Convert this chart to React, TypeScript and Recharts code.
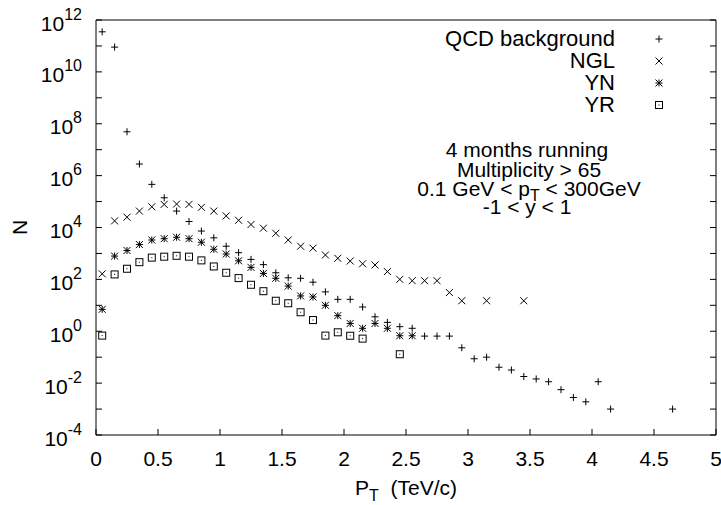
import { ScatterChart, Scatter, XAxis, YAxis, Legend } from "recharts";

// pT bins (TeV/c) and counts
const qcdPt = [
  0.05, 0.15, 0.25, 0.35, 0.45, 0.55, 0.65, 0.75, 0.85, 0.95, 1.05, 1.15, 1.25,
  1.35, 1.45, 1.55, 1.65, 1.75, 1.85, 1.95, 2.05, 2.15, 2.25, 2.35, 2.45, 2.55,
  2.65, 2.75, 2.85, 2.95, 3.05, 3.15, 3.25, 3.35, 3.45, 3.55, 3.65, 3.75, 3.85,
  3.95, 4.05, 4.15, 4.65,
];
const qcdN = [
  3.5e11, 9e10, 4.9e7, 2.8e6, 4.6e5, 1.4e5, 4.3e4, 1.7e4, 7.3e3, 4e3, 1.9e3,
  1.07e3, 590, 370, 180, 115, 110, 78, 33, 17, 17, 8.6, 3.6, 2.2, 1.5, 1.3,
  0.65, 0.65, 0.65, 0.23, 0.087, 0.1, 0.041, 0.032, 0.018, 0.0145, 0.0113,
  0.0056, 0.0028, 0.0019, 0.0113, 0.001, 0.001,
];

const nglPt = [
  0.05, 0.15, 0.25, 0.35, 0.45, 0.55, 0.65, 0.75, 0.85, 0.95, 1.05, 1.15, 1.25,
  1.35, 1.45, 1.55, 1.65, 1.75, 1.85, 1.95, 2.05, 2.15, 2.25, 2.35, 2.45, 2.55,
  2.65, 2.75, 2.85, 2.95, 3.15, 3.45,
];
const nglN = [
  163, 1.8e4, 2.5e4, 4.3e4, 6.3e4, 7.8e4, 8e4, 7.8e4, 6e4, 4.3e4, 2.8e4, 1.9e4,
  1.3e4, 9.4e3, 6e3, 3.3e3, 1.9e3, 1.6e3, 870, 650, 510, 400, 360, 200, 100, 89,
  89, 89, 31, 15, 15, 15,
];

const ynPt = [
  0.05, 0.15, 0.25, 0.35, 0.45, 0.55, 0.65, 0.75, 0.85, 0.95, 1.05, 1.15, 1.25,
  1.35, 1.45, 1.55, 1.65, 1.75, 1.85, 1.95, 2.05, 2.15, 2.25, 2.35, 2.45, 2.55,
];
const ynN = [
  7, 790, 1.3e3, 2.2e3, 3.3e3, 3.7e3, 4.2e3, 3.7e3, 2.7e3, 1.45e3, 950, 520, 290,
  170, 110, 55, 23, 21, 10, 4, 2.0, 1.3, 2.0, 1.3, 0.67, 0.67,
];

const yrPt = [
  0.05, 0.15, 0.25, 0.35, 0.45, 0.55, 0.65, 0.75, 0.85, 0.95, 1.05, 1.15, 1.25,
  1.35, 1.45, 1.55, 1.65, 1.75, 1.85, 1.95, 2.05, 2.15, 2.45,
];
const yrN = [
  0.68, 155, 257, 460, 690, 750, 810, 750, 540, 315, 180, 112, 62, 35, 15, 12,
  5.4, 2.7, 0.68, 0.91, 0.67, 0.52, 0.13,
];

const xTicks = [0, 0.5, 1, 1.5, 2, 2.5, 3, 3.5, 4, 4.5, 5];
const yTicks = [
  1e-4, 1e-3, 1e-2, 1e-1, 1, 1e1, 1e2, 1e3, 1e4, 1e5, 1e6, 1e7, 1e8, 1e9, 1e10,
  1e11, 1e12,
];

const FONT = "'Liberation Sans', Arial, Helvetica, sans-serif";
const FS = 21;
const FS_KEY = 22;
const TICK = 6;
const H = 3.5;

const toPoints = (pt: number[], n: number[]) =>
  pt.map((p, i) => ({ pt: p, n: n[i] }));

const PlusMark = ({ cx, cy }: any) => (
  <path
    d={`M${cx - H},${cy}h${2 * H}M${cx},${cy - H}v${2 * H}`}
    stroke="#000"
    strokeWidth={1}
    fill="none"
  />
);
const CrossMark = ({ cx, cy }: any) => (
  <path
    d={`M${cx - H},${cy - H}l${2 * H},${2 * H}M${cx - H},${cy + H}l${2 * H},${-2 * H}`}
    stroke="#000"
    strokeWidth={1}
    fill="none"
  />
);
const StarMark = ({ cx, cy }: any) => (
  <g>
    <PlusMark cx={cx} cy={cy} />
    <CrossMark cx={cx} cy={cy} />
  </g>
);
const BoxMark = ({ cx, cy }: any) => (
  <g>
    <rect x={cx - H} y={cy - H} width={2 * H} height={2 * H} stroke="#000" strokeWidth={1} fill="none" />
    <rect x={cx - 0.5} y={cy - 0.5} width={1} height={1} fill="#000" />
  </g>
);

const series = [
  { name: "QCD background", data: toPoints(qcdPt, qcdN), Shape: PlusMark },
  { name: "NGL", data: toPoints(nglPt, nglN), Shape: CrossMark },
  { name: "YN", data: toPoints(ynPt, ynN), Shape: StarMark },
  { name: "YR", data: toPoints(yrPt, yrN), Shape: BoxMark },
];

const BottomTick = ({ x, y, payload }: any) => (
  <g>
    <line x1={x} y1={y} x2={x} y2={y - TICK} stroke="#000" />
    <text x={x} y={y + 31} textAnchor="middle" fontFamily={FONT} fontSize={FS} fill="#000">
      {payload.value}
    </text>
  </g>
);
const TopTick = ({ x, y }: any) => (
  <line x1={x} y1={y} x2={x} y2={y + TICK} stroke="#000" />
);
const LeftTick = ({ x, y, payload }: any) => {
  const exp = Math.round(Math.log10(payload.value));
  return (
    <g>
      <line x1={x} y1={y} x2={x + TICK} y2={y} stroke="#000" />
      {exp % 2 === 0 && (
        <text x={x - 14} y={y + 10.5} textAnchor="end" fontFamily={FONT} fontSize={FS} fill="#000">
          <tspan>10</tspan>
          <tspan dy={-11} fontSize={16}>
            {exp}
          </tspan>
        </text>
      )}
    </g>
  );
};
const RightTick = ({ x, y }: any) => (
  <line x1={x} y1={y} x2={x - TICK} y2={y} stroke="#000" />
);

// legend + run conditions, drawn in a box whose origin is at (400, 0)
const LegendBox = () => (
  <svg width={320} height={230} style={{ display: "block", overflow: "visible" }}>
    {series.map((s, i) => (
      <g key={s.name}>
        <text x={215} y={46 + i * 22} textAnchor="end" fontFamily={FONT} fontSize={FS_KEY} fill="#000">
          {s.name}
        </text>
        <s.Shape cx={259} cy={39 + i * 22} />
      </g>
    ))}
    <g fontFamily={FONT} fontSize={FS} fill="#000" textAnchor="middle">
      <text x={127} y={157}>4 months running</text>
      <text x={129} y={177}>{"Multiplicity > 65"}</text>
      <text x={129} y={195.5} style={{ whiteSpace: "pre" }}>
        <tspan>{"0.1 GeV < p"}</tspan>
        <tspan dy={5} fontSize={16}>T</tspan>
        <tspan dy={-5}>{" < 300GeV"}</tspan>
      </text>
      <text x={127} y={214}>{"-1 < y < 1"}</text>
    </g>
  </svg>
);

export default function App() {
  return (
    <div style={{ position: "absolute", left: 0, top: 0, background: "#fff" }}>
      <ScatterChart width={721} height={505} margin={{ top: 10, right: 0, bottom: 10, left: 0 }}>
        <XAxis
          dataKey="pt"
          type="number"
          domain={[0, 5]}
          ticks={xTicks}
          interval={0}
          allowDataOverflow
          height={60}
          tickSize={0}
          tickMargin={0}
          tickLine={false}
          axisLine={{ stroke: "#000" }}
          tick={<BottomTick />}
          label={{
            content: ({ viewBox }: any) => (
              <text
                x={viewBox.x + viewBox.width / 2}
                y={viewBox.y + 60}
                textAnchor="middle"
                fontFamily={FONT}
                fontSize={FS}
                fill="#000"
                style={{ whiteSpace: "pre" }}
              >
                <tspan>P</tspan>
                <tspan dy={6} fontSize={16}>T</tspan>
                <tspan dy={-6}>{"  (TeV/c)"}</tspan>
              </text>
            ),
          }}
        />
        <XAxis
          xAxisId="top"
          orientation="top"
          type="number"
          domain={[0, 5]}
          ticks={xTicks}
          interval={0}
          allowDataOverflow
          height={10}
          tickSize={0}
          tickMargin={0}
          tickLine={false}
          axisLine={{ stroke: "#000" }}
          tick={<TopTick />}
        />
        <YAxis
          dataKey="n"
          type="number"
          scale="log"
          domain={[1e-4, 1e12]}
          ticks={yTicks}
          interval={0}
          allowDataOverflow
          width={96}
          tickSize={0}
          tickMargin={0}
          tickLine={false}
          axisLine={{ stroke: "#000" }}
          tick={<LeftTick />}
          label={{
            content: ({ viewBox }: any) => {
              const cy = viewBox.y + viewBox.height / 2;
              return (
                <text
                  x={19}
                  y={cy}
                  transform={`rotate(-90 19 ${cy})`}
                  textAnchor="middle"
                  dominantBaseline="central"
                  fontFamily={FONT}
                  fontSize={FS}
                  fill="#000"
                >
                  N
                </text>
              );
            },
          }}
        />
        <YAxis
          yAxisId="right"
          orientation="right"
          type="number"
          scale="log"
          domain={[1e-4, 1e12]}
          ticks={yTicks}
          interval={0}
          allowDataOverflow
          width={5}
          tickSize={0}
          tickMargin={0}
          tickLine={false}
          axisLine={{ stroke: "#000" }}
          tick={<RightTick />}
        />
        <Legend
          layout="vertical"
          align="center"
          verticalAlign="middle"
          wrapperStyle={{ left: 400, top: 0, width: 320, height: 230 }}
          content={() => <LegendBox />}
        />
        {series.map((s) => (
          <Scatter
            key={s.name}
            name={s.name}
            data={s.data}
            shape={s.Shape}
            isAnimationActive={false}
          />
        ))}
      </ScatterChart>
    </div>
  );
}
